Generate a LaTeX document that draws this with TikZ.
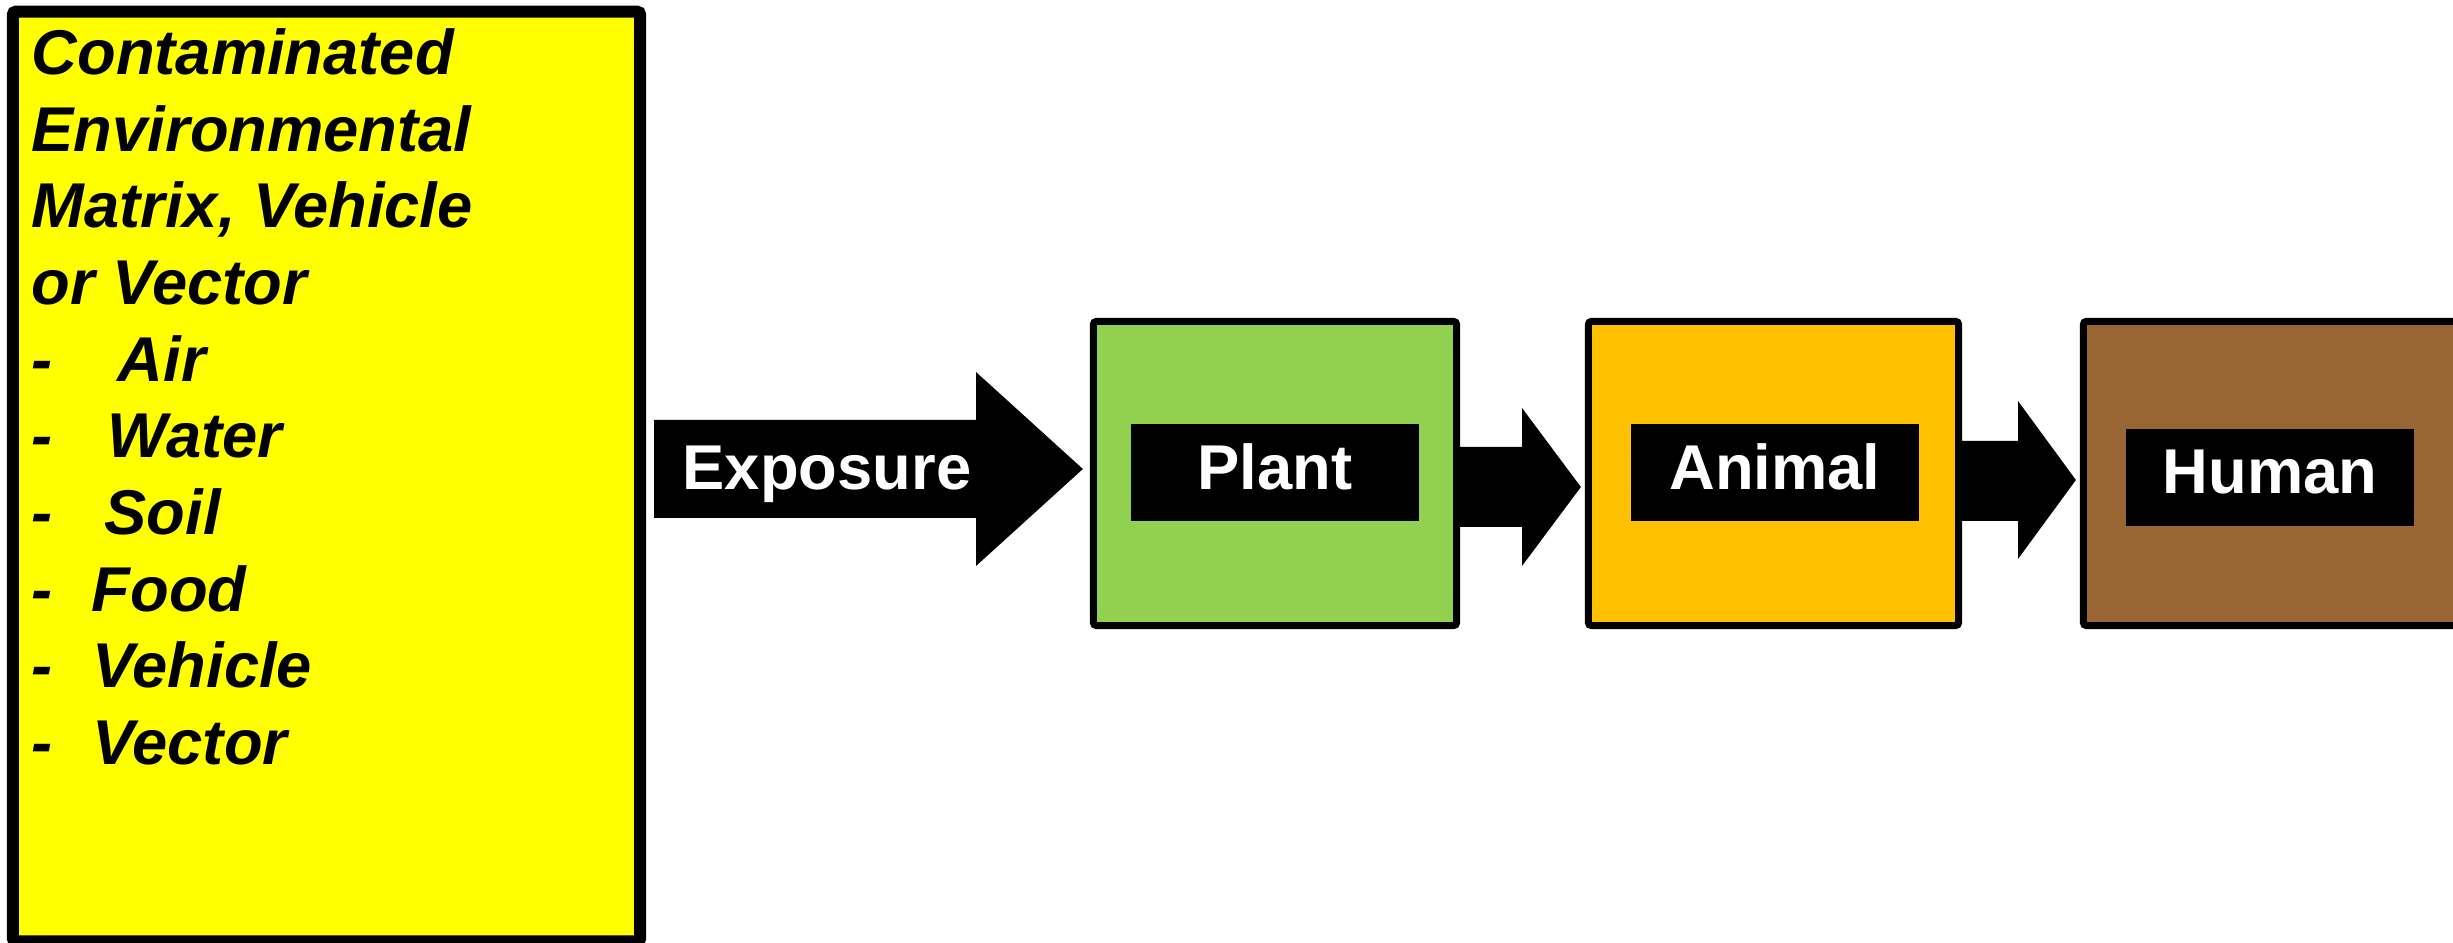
\documentclass[tikz,border=0pt]{standalone}
\usepackage{fontspec}
\setmainfont{Liberation Sans}
\usetikzlibrary{calc}

\definecolor{srcyellow}{HTML}{FFFF00}
\definecolor{plantgreen}{HTML}{92D050}
\definecolor{animalorange}{HTML}{FFC000}
\definecolor{humanbrown}{HTML}{996633}

\tikzset{
  stage/.style={draw=black,line width=0.07cm,rounded corners=0.03cm,
    minimum height=3.04cm,inner sep=0pt},
  tag/.style={fill=black,text=white,font=\fontsize{18}{21.6}\selectfont\bfseries,
    minimum width=2.88cm,minimum height=0.97cm,inner sep=0pt,text depth=0.12cm},
  srctext/.style={font=\fontsize{18}{21.6}\selectfont\bfseries\itshape,
    anchor=base west,inner sep=0pt},
}

\begin{document}
\begin{tikzpicture}[x=0.01cm,y=-0.01cm]
  \useasboundingbox (0,0) rectangle (2453,943);

  % source of contamination
  \node[draw=black,line width=0.12cm,fill=srcyellow,rounded corners=0.03cm,
    minimum width=6.27cm,minimum height=9.29cm] (source) at (326.5,476.5) {};
  \node[srctext] (title1) at (31,75) {Contaminated};
  \node[srctext] (title2) at (31,152) {Environmental};
  \node[srctext] (title3) at (31,228) {Matrix, Vehicle};
  \node[srctext] (title4) at (31,305) {or Vector};
  \foreach \y [count=\i] in {382,458,535,612,688,765}
    \node[srctext] (dash\i) at (31,\y) {-};
  \node[srctext] (air) at (117,382) {Air};
  \node[srctext] (water) at (107,458) {Water};
  \node[srctext] (soil) at (104,535) {Soil};
  \node[srctext] (food) at (91,612) {Food};
  \node[srctext] (vehicle) at (92,688) {Vehicle};
  \node[srctext] (vector) at (92,765) {Vector};

  % receptors
  \node[stage,fill=plantgreen,minimum width=3.63cm] (plant) at (1275,473.5) {};
  \node[tag] (planttag) at (1275,472.5) {Plant};
  \node[stage,fill=animalorange,minimum width=3.70cm] (animal) at (1773.5,473.5) {};
  \node[tag] (animaltag) at (1775,472.5) {Animal};
  \node[stage,fill=humanbrown,minimum width=3.73cm] (human) at (2270,473.5) {};
  \node[tag] (humantag) at (2270,477.5) {Human};

  % exposure arrow
  \coordinate (exptail) at (654,469);
  \fill[black] ($(exptail)+(0,-49)$) -- (976,420) -- (976,372)
    -- ($(plant.west)+(-7,-4.5)$) -- (976,566) -- (976,518)
    -- ($(exptail)+(0,49)$) -- cycle;
  \node[font=\fontsize{18}{21.6}\selectfont\bfseries,text=white,inner sep=0pt]
    (exposure) at (827,474) {Exposure};

  % transfer arrows
  \fill[black] ($(plant.east)+(0,-26.5)$) -- (1522,447) -- (1522,408)
    -- ($(animal.west)+(-4,13.5)$) -- (1522,566) -- (1522,527)
    -- ($(plant.east)+(0,53.5)$) -- cycle;
  \fill[black] ($(animal.east)+(0,-32.5)$) -- (2018,441) -- (2018,401)
    -- ($(human.west)+(-4,6.5)$) -- (2018,559) -- (2018,521)
    -- ($(animal.east)+(0,47.5)$) -- cycle;
\end{tikzpicture}
\end{document}
